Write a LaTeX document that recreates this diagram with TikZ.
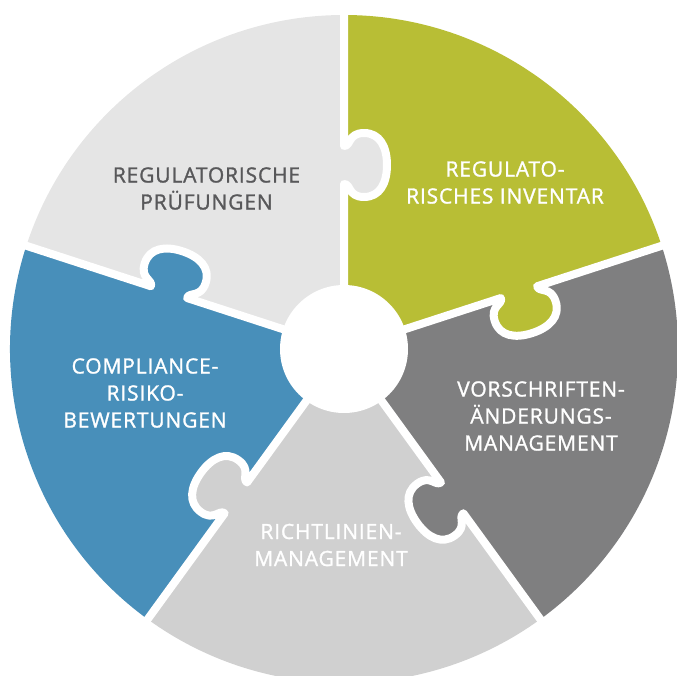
\documentclass[tikz,border=0pt]{standalone}
\usepackage{fontspec}
\setmainfont{Open Sans}[LetterSpace=4, FakeBold=1.3]
\definecolor{pgray}{HTML}{E5E5E5}
\definecolor{pgreen}{HTML}{B8BE35}
\definecolor{pdark}{HTML}{7F7F80}
\definecolor{plight}{HTML}{D0D0D0}
\definecolor{pblue}{HTML}{488FBA}
\definecolor{ptext}{HTML}{58585A}
\begin{document}
\begin{tikzpicture}[x=1pt,y=1pt,
  lbl/.style={align=center, font=\fontsize{21}{27}\selectfont, text=white, inner sep=0pt},
  gap/.style={draw=white, line width=8pt, line join=round},
  knob/.style={insert path={.. controls (7,165) and (4,152) .. (20,152)
      .. controls (36,152) and (43,166) .. (43,184)
      .. controls (43,202) and (36,216) .. (20,216)
      .. controls (4,216) and (7,203) .. (0,203)}}]
\useasboundingbox (-344,-326) rectangle (333,349);
\def\R{334}
% wedges
\foreach \s/\e/\c in {90/18/pgreen, 18/-54/pdark, -54/-126/plight, -126/-198/pblue, 162/90/pgray}{
  \fill[\c] (0,0) -- (\s:\R) arc[start angle=\s, end angle=\e, radius=\R] -- cycle;
}
% puzzle tabs
\foreach \a/\c in {0/pgray, -72/pgreen, -144/pdark, -216/plight, 72/pblue}{
  \fill[\c, rotate=\a] (-4,165) -- (0,165) [knob] -- (-4,203) -- cycle;
}
% white gaps
\foreach \a in {0, -72, -144, -216, 72}{
  \draw[gap, rotate=\a] (0,0) -- (0,165) [knob] -- (0,\R+10);
}
\node[circle, fill=white, minimum size=128pt, inner sep=0pt] (hub) at (0,0) {};
% labels
\node[lbl, text=ptext] (rp) at (-137.5,160.5) {REGULATORISCHE\\PRÜFUNGEN};
\node[lbl] (ri) at (161,166.5) {REGULATO-\\RISCHES INVENTAR};
\node[lbl] (vam) at (197,-67) {VORSCHRIFTEN-\\ÄNDERUNGS-\\MANAGEMENT};
\node[lbl] (rm) at (-13,-196) {RICHTLINIEN-\\MANAGEMENT};
\node[lbl] (crb) at (-199,-44) {COMPLIANCE-\\RISIKO-\\BEWERTUNGEN};
\end{tikzpicture}
\end{document}
